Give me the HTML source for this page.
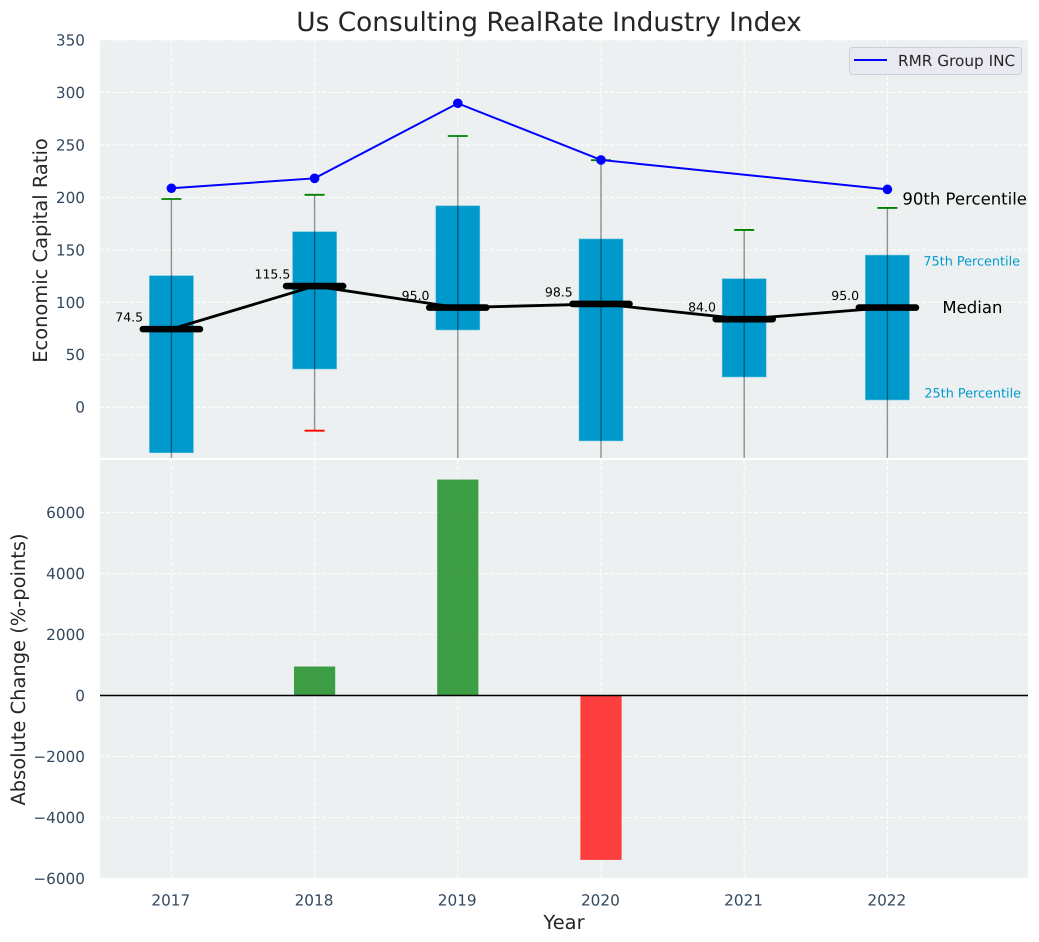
<!DOCTYPE html>
<html>
<head>
<meta charset="utf-8">
<title>Us Consulting RealRate Industry Index</title>
<style>
html,body{margin:0;padding:0;background:#fff;width:1039px;height:942px;overflow:hidden}
svg{display:block;font-family:"DejaVu Sans","Liberation Sans",sans-serif;text-rendering:geometricPrecision}
</style>
</head>
<body>
<svg id="chart" width="1039" height="942" viewBox="0 0 1039 942" xmlns="http://www.w3.org/2000/svg">
  <defs>
    <clipPath id="clip-top"><rect x="100" y="40" width="928" height="418"></rect></clipPath>
    <clipPath id="clip-bottom"><rect x="100" y="460" width="928" height="418"></rect></clipPath>
  </defs>
  <text x="549" y="31" font-size="26.4" text-anchor="middle" fill="#262626">Us Consulting RealRate Industry Index</text>
  <rect x="100" y="40" width="928" height="418" fill="#ecf0f1"></rect>
  <rect x="100" y="460" width="928" height="418" fill="#ecf0f1"></rect>
  <g id="top-grid" clip-path="url(#clip-top)"></g>
  <g id="bottom-grid" clip-path="url(#clip-bottom)"></g>
  <g id="top-marks" clip-path="url(#clip-top)"></g>
  <g id="bottom-marks" clip-path="url(#clip-bottom)"></g>
  <g id="axis-labels"></g>
  <text transform="translate(47,250.5) rotate(-90)" font-size="19.44" text-anchor="middle" fill="#262626">Economic Capital Ratio</text>
  <text transform="translate(25,669.5) rotate(-90)" font-size="19.44" text-anchor="middle" fill="#262626">Absolute Change (%-points)</text>
  <text x="564" y="929" font-size="19.44" text-anchor="middle" fill="#262626">Year</text>
  <g>
    <rect x="849.5" y="47.5" width="172" height="27" rx="3" fill="#e8e9f1" stroke="#cfd0d6"></rect>
    <line x1="854" y1="60" x2="887" y2="60" stroke="#0000ff" stroke-width="2"></line>
    <text x="898" y="66" font-size="15.28" fill="#262626">RMR Group INC</text>
  </g>
</svg>
<script>
var years = [2017, 2018, 2019, 2020, 2021, 2022];
var p90 = [198.5, 202.5, 258.5, 235.5, 169, 190];
var p75 = [125.4, 167.3, 192, 160.4, 122.5, 145];
var medians = [74.5, 115.5, 95.0, 98.5, 84.0, 95.0];
var p25 = [-43.3, 36.5, 73.7, -32, 28.9, 7];
var p10 = [-80, -22.3, -90, -85, -70, -75];
var companyYears = [2017, 2018, 2019, 2020, 2022];
var companyValues = [208.7, 218.2, 289.7, 235.7, 207.7];
var changeValues = [0, 950, 7080, -5390, 0, 0];
var topTicks = [350, 300, 250, 200, 150, 100, 50, 0];
var bottomTicks = [6000, 4000, 2000, 0, -2000, -4000, -6000];

var NS = 'http://www.w3.org/2000/svg';
function xS(v) { return 171.4 + (v - 2017) * 143.2; }
function yTop(v) { return 407.3 - v * 1.0494; }
function yBot(v) { return 695.5 - v * 0.0305; }
function mk(tag, parent, attrs, txt) {
  var el = document.createElementNS(NS, tag);
  for (var k in attrs) el.setAttribute(k, attrs[k]);
  if (txt !== undefined) el.textContent = txt;
  parent.appendChild(el);
  return el;
}
function fmtTick(v) { return v < 0 ? '\u2212' + Math.abs(v) : String(v); }

var topGrid = document.getElementById('top-grid');
var botGrid = document.getElementById('bottom-grid');
var topMarks = document.getElementById('top-marks');
var botMarks = document.getElementById('bottom-marks');
var labels = document.getElementById('axis-labels');
var svg = document.getElementById('chart');
var gridStyle = { stroke: '#ffffff', 'stroke-width': 1.1, 'stroke-dasharray': '4 2', 'stroke-opacity': 0.9 };
function gridLine(parent, x1, y1, x2, y2) {
  var a = { x1: x1, y1: y1, x2: x2, y2: y2 };
  for (var k in gridStyle) a[k] = gridStyle[k];
  return mk('line', parent, a);
}

topTicks.forEach(function (t) {
  var g = gridLine(topGrid, 100, yTop(t), 1028, yTop(t));
  
  
  var l = mk('text', labels, { x: 85, y: yTop(t) + 5.4, 'font-size': 15.28, 'text-anchor': 'end', fill: '#34495e' }, fmtTick(t));
  
  
});
bottomTicks.forEach(function (t) {
  var g = gridLine(botGrid, 100, yBot(t), 1028, yBot(t));
  
  
  var l = mk('text', labels, { x: 85, y: yBot(t) + 5.4, 'font-size': 15.28, 'text-anchor': 'end', fill: '#34495e' }, fmtTick(t));
  
  
});
years.forEach(function (yr) {
  var a = gridLine(topGrid, xS(yr), 40, xS(yr), 458);
  
  
  var b = gridLine(botGrid, xS(yr), 460, xS(yr), 878);
  
  
  var l = mk('text', labels, { x: xS(yr) - 0.6, y: 905.5, 'font-size': 15.28, 'text-anchor': 'middle', fill: '#34495e' }, String(yr));
  
  
});

/* boxes */
years.forEach(function (yr, i) {
  var box = mk('rect', topMarks, {
    x: xS(yr) - 22, y: yTop(p75[i]), width: 44, height: yTop(p25[i]) - yTop(p75[i]),
    fill: '#0099cc', stroke: '#5bbfdf', 'stroke-width': 0.6
  });
  
  
});
/* whiskers */
years.forEach(function (yr, i) {
  var w = mk('line', topMarks, {
    x1: xS(yr), y1: yTop(p90[i]), x2: xS(yr), y2: yTop(p10[i]),
    stroke: '#000000', 'stroke-opacity': 0.42, 'stroke-width': 1.4
  });
  
  
  var capHi = mk('line', topMarks, {
    x1: xS(yr) - 10, y1: yTop(p90[i]), x2: xS(yr) + 10, y2: yTop(p90[i]),
    stroke: '#008000', 'stroke-width': 1.8
  });
  
  
  var capLo = mk('line', topMarks, {
    x1: xS(yr) - 10, y1: yTop(p10[i]), x2: xS(yr) + 10, y2: yTop(p10[i]),
    stroke: '#ff0000', 'stroke-width': 1.8
  });
  
  
});
/* median connecting line */
var medLine = mk('polyline', topMarks, {
  points: years.map(function (yr, i) { return xS(yr) + ',' + yTop(medians[i]); }).join(' '),
  fill: 'none', stroke: '#000000', 'stroke-width': 2.8
});


years.forEach(function (yr, i) {
  var m = mk('line', topMarks, {
    x1: xS(yr) - 28.5, y1: yTop(medians[i]), x2: xS(yr) + 28.5, y2: yTop(medians[i]),
    stroke: '#000000', 'stroke-width': 6.6, 'stroke-linecap': 'round'
  });
  
  
  var t = mk('text', topMarks, {
    x: xS(yr) - 42.2, y: yTop(medians[i]) - 7.5, 'font-size': 12.5, 'text-anchor': 'middle', fill: '#000000'
  }, medians[i].toFixed(1));
  
  
});
/* company line */
var compLine = mk('polyline', topMarks, {
  points: companyYears.map(function (yr, i) { return xS(yr) + ',' + yTop(companyValues[i]); }).join(' '),
  fill: 'none', stroke: '#0000ff', 'stroke-width': 2
});


companyYears.forEach(function (yr, i) {
  var c = mk('circle', topMarks, { cx: xS(yr), cy: yTop(companyValues[i]), r: 4.8, fill: '#0000ff' });
  
  
});

/* percentile annotations next to last box */
var lastYear = years[years.length - 1];
var lastIdx = years.length - 1;
var a90 = mk('text', svg, { x: xS(lastYear) + 15, y: yTop(p90[lastIdx]) - 3.5, 'font-size': 16.5, fill: '#000000' }, '90th Percentile');


var a75 = mk('text', svg, { x: xS(lastYear) + 36, y: yTop(p75[lastIdx]) + 10.5, 'font-size': 12.8, fill: '#0099cc' }, '75th Percentile');


var a50 = mk('text', svg, { x: xS(lastYear) + 55, y: yTop(medians[lastIdx]) + 5.5, 'font-size': 16.5, fill: '#000000' }, 'Median');


var a25 = mk('text', svg, { x: xS(lastYear) + 37, y: yTop(p25[lastIdx]) - 2.5, 'font-size': 12.8, fill: '#0099cc' }, '25th Percentile');



/* change bars */
years.forEach(function (yr, i) {
  var v = changeValues[i];
  if (v === 0) return;
  var top = Math.min(yBot(v), yBot(0));
  var b = mk('rect', botMarks, {
    x: xS(yr) - 20.6, y: top, width: 41.2, height: Math.abs(yBot(v) - yBot(0)),
    fill: v > 0 ? '#2a9431' : '#ff2a2a', 'fill-opacity': 0.9
  });
  
  
});
var zero = mk('line', botMarks, { x1: 100, y1: yBot(0), x2: 1028, y2: yBot(0), stroke: '#000000', 'stroke-width': 1.4 });


</script>
</body>
</html>
